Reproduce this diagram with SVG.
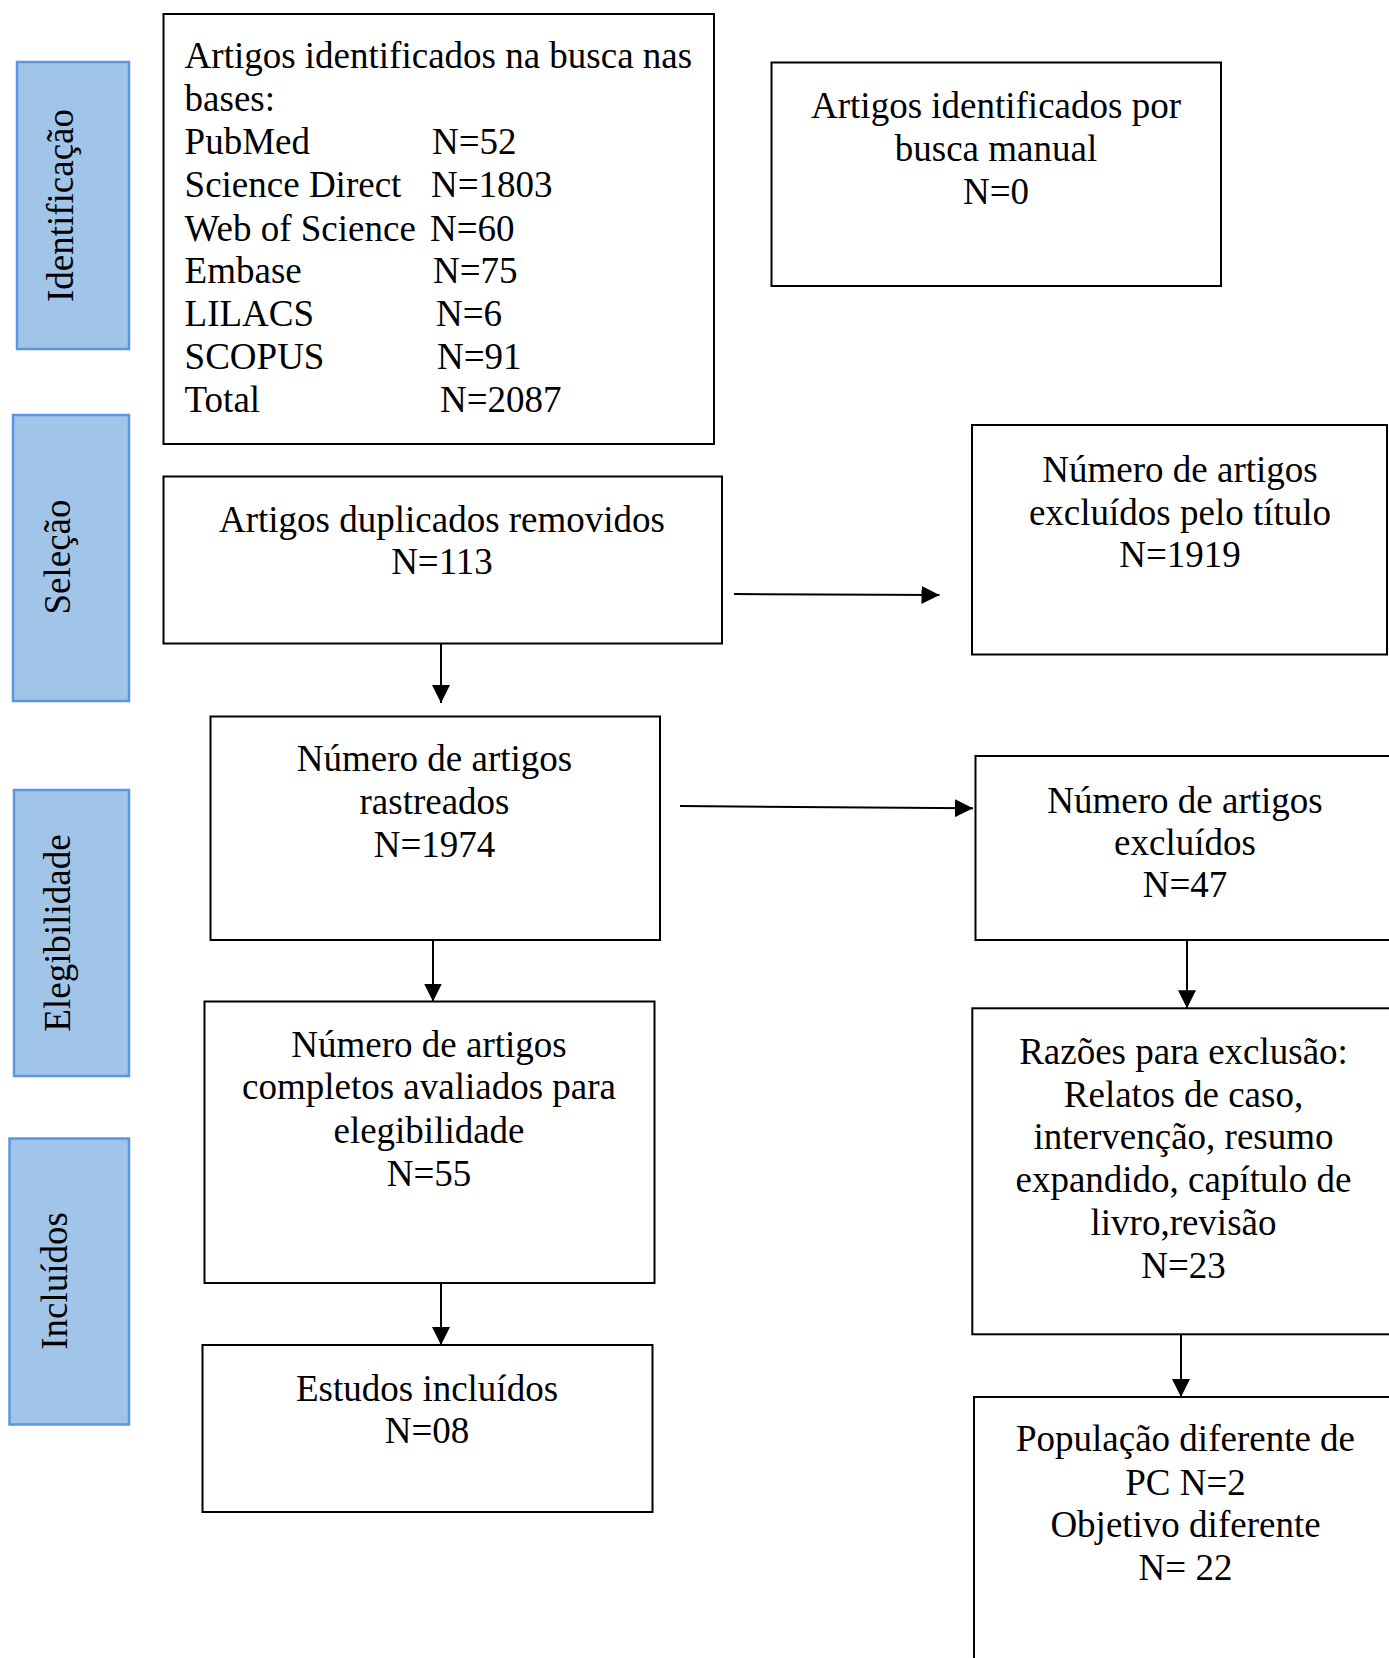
<svg xmlns="http://www.w3.org/2000/svg" width="1389" height="1658" viewBox="0 0 1389 1658">
<defs>
<style>
.t{font-family:"Liberation Serif","Times New Roman",serif;font-size:37px;fill:#000}
.c{text-anchor:middle}
.box{fill:#fff;stroke:#000;stroke-width:2}
.lab{fill:#A0C5E8;stroke:#5B95E6;stroke-width:2.5}
.ln{stroke:#000;stroke-width:2;fill:none}
</style>
<marker id="ah" markerUnits="userSpaceOnUse" markerWidth="18" markerHeight="18" viewBox="0 0 16 16" refX="16" refY="8" orient="auto">
<path d="M0,0 L16,8 L0,16 Z" fill="#000"/>
</marker>
</defs>
<rect width="1389" height="1658" fill="#fff"/>

<g id="stage-identificacao">
<rect class="lab" x="17" y="62" width="112" height="287"/>
<text class="t c" transform="translate(73,205.5) rotate(-90)">Identificação</text>
</g>
<g id="stage-selecao">
<rect class="lab" x="13" y="415" width="116" height="286"/>
<text class="t c" transform="translate(70,557) rotate(-90)">Seleção</text>
</g>
<g id="stage-elegibilidade">
<rect class="lab" x="14" y="790" width="115" height="286"/>
<text class="t c" transform="translate(70,933) rotate(-90)">Elegibilidade</text>
</g>
<g id="stage-incluidos">
<rect class="lab" x="9.5" y="1138.5" width="119.5" height="286"/>
<text class="t c" transform="translate(67,1281) rotate(-90)">Incluídos</text>
</g>

<g id="node-bases">
<rect class="box" x="163.5" y="14" width="550.5" height="430"/>
<text class="t" x="184.6" y="68.3">Artigos identificados na busca nas</text>
<text class="t" x="184.6" y="111">bases:</text>
<text class="t" y="154.3"><tspan x="184.6">PubMed</tspan><tspan x="432">N=52</tspan></text>
<text class="t" y="197.3"><tspan x="184.6">Science Direct</tspan><tspan x="431">N=1803</tspan></text>
<text class="t" y="240.7"><tspan x="184.6">Web of Science</tspan><tspan x="430">N=60</tspan></text>
<text class="t" y="283.3"><tspan x="184.6">Embase</tspan><tspan x="433">N=75</tspan></text>
<text class="t" y="326"><tspan x="184.6">LILACS</tspan><tspan x="436">N=6</tspan></text>
<text class="t" y="369.3"><tspan x="184.6">SCOPUS</tspan><tspan x="437">N=91</tspan></text>
<text class="t" y="412.3"><tspan x="184.6">Total</tspan><tspan x="440">N=2087</tspan></text>
</g>

<g id="node-manual">
<rect class="box" x="771.5" y="62.5" width="449.5" height="223.5"/>
<text class="t c" x="996" y="118.4">Artigos identificados por</text>
<text class="t c" x="996" y="161">busca manual</text>
<text class="t c" x="996" y="204">N=0</text>
</g>

<g id="node-duplicados">
<rect class="box" x="163.5" y="476.5" width="558.5" height="167"/>
<text class="t c" x="442" y="532">Artigos duplicados removidos</text>
<text class="t c" x="442" y="574">N=113</text>
</g>

<g id="node-excl-titulo">
<rect class="box" x="972" y="425" width="415" height="229.5"/>
<text class="t c" x="1180" y="482">Número de artigos</text>
<text class="t c" x="1180" y="524.5">excluídos pelo título</text>
<text class="t c" x="1180" y="566.5">N=1919</text>
</g>

<g id="node-rastreados">
<rect class="box" x="210.5" y="716.5" width="449.5" height="223.5"/>
<text class="t c" x="434.5" y="771.4">Número de artigos</text>
<text class="t c" x="434.5" y="814">rastreados</text>
<text class="t c" x="434.5" y="857">N=1974</text>
</g>

<g id="node-excluidos">
<rect class="box" x="975.5" y="756" width="425" height="184"/>
<text class="t c" x="1185" y="812.7">Número de artigos</text>
<text class="t c" x="1185" y="854.8">excluídos</text>
<text class="t c" x="1185" y="897">N=47</text>
</g>

<g id="node-completos">
<rect class="box" x="204.5" y="1001.5" width="450" height="281.5"/>
<text class="t c" x="429" y="1057">Número de artigos</text>
<text class="t c" x="429" y="1099">completos avaliados para</text>
<text class="t c" x="429" y="1142.5">elegibilidade</text>
<text class="t c" x="429" y="1185.5">N=55</text>
</g>

<g id="node-estudos">
<rect class="box" x="202.5" y="1345" width="450" height="167"/>
<text class="t c" x="427" y="1401">Estudos incluídos</text>
<text class="t c" x="427" y="1443">N=08</text>
</g>

<g id="node-razoes">
<rect class="box" x="972.3" y="1008.3" width="428" height="326"/>
<text class="t c" x="1183.5" y="1064">Razões para exclusão:</text>
<text class="t c" x="1183.5" y="1106.7">Relatos de caso,</text>
<text class="t c" x="1183.5" y="1149.3">intervenção, resumo</text>
<text class="t c" x="1183.5" y="1192.3">expandido, capítulo de</text>
<text class="t c" x="1183.5" y="1235">livro,revisão</text>
<text class="t c" x="1183.5" y="1277.7">N=23</text>
</g>

<g id="node-populacao">
<rect class="box" x="974" y="1397" width="426" height="280"/>
<text class="t c" x="1185.5" y="1451.3">População diferente de</text>
<text class="t c" x="1185.5" y="1494.7">PC N=2</text>
<text class="t c" x="1185.5" y="1537.3">Objetivo diferente</text>
<text class="t c" x="1185.5" y="1580">N= 22</text>
</g>

<g id="connectors">
<line class="ln" x1="734" y1="594" x2="939.5" y2="595" marker-end="url(#ah)"/>
<line class="ln" x1="441" y1="643.5" x2="441" y2="703" marker-end="url(#ah)"/>
<line class="ln" x1="680" y1="806" x2="973" y2="808.3" marker-end="url(#ah)"/>
<line class="ln" x1="433" y1="940" x2="433" y2="1001.5" marker-end="url(#ah)"/>
<line class="ln" x1="1187" y1="940" x2="1187" y2="1008.3" marker-end="url(#ah)"/>
<line class="ln" x1="441" y1="1283" x2="441" y2="1345" marker-end="url(#ah)"/>
<line class="ln" x1="1181" y1="1334.3" x2="1181" y2="1397" marker-end="url(#ah)"/>
</g>
</svg>
